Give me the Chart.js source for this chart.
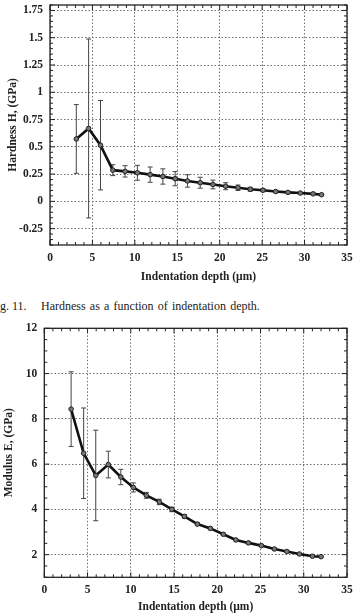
<!DOCTYPE html>
<html>
<head>
<meta charset="utf-8">
<script src="https://cdn.jsdelivr.net/npm/chart.js@4.4.1/dist/chart.umd.min.js"></script>
<style>
    html, body { margin: 0; padding: 0; background: #fff; }
    body { width: 354px; height: 614px; position: relative; overflow: hidden; font-family: "Liberation Serif", serif; }
    .box { position: absolute; left: 0; width: 354px; }
    #hardBox { top: 0; height: 284px; }
    #modBox { top: 314px; height: 300px; }
    .caption { position: absolute; top: 299px; font-size: 12px; color: #222; white-space: nowrap; }
</style>
</head>
<body>
<div class="box" id="hardBox"><canvas id="hardnessChart"></canvas></div>
<div class="caption" style="left:0">g. 11.</div>
<div class="caption" style="left:41px; word-spacing:1.2px">Hardness as a function of indentation depth.</div>
<div class="box" id="modBox"><canvas id="modulusChart"></canvas></div>
<script>
const depth = [3.1, 4.55, 5.95, 7.4, 8.85, 10.3, 11.8, 13.3, 14.75, 16.2, 17.7, 19.2, 20.7, 22.15, 23.6, 25.1, 26.6, 28.05, 29.5, 31.0, 32.0];
const hardness = [0.572, 0.668, 0.515, 0.286, 0.275, 0.262, 0.245, 0.228, 0.208, 0.187, 0.171, 0.155, 0.139, 0.125, 0.111, 0.102, 0.09, 0.082, 0.076, 0.069, 0.061];
const hardnessErr = [0.315, 0.82, 0.41, 0.05, 0.052, 0.068, 0.07, 0.07, 0.065, 0.057, 0.05, 0.04, 0.032, 0.025, 0.018, 0.013, 0.01, 0.008, 0.006, 0.005, 0.004];
const modulus = [8.43, 6.48, 5.5, 5.98, 5.43, 4.97, 4.62, 4.33, 4.0, 3.69, 3.35, 3.16, 2.9, 2.65, 2.52, 2.4, 2.25, 2.14, 2.03, 1.93, 1.91];
const modulusErr = [1.65, 2.0, 2.0, 0.59, 0.34, 0.2, 0.13, 0.12, 0.1, 0.08, 0.06, 0.05, 0.05, 0.04, 0.04, 0.03, 0.03, 0.03, 0.02, 0.02, 0.02];

const depthTicks = [0, 5, 10, 15, 20, 25, 30, 35];
const hardnessTicks = [-0.25, 0, 0.25, 0.5, 0.75, 1, 1.25, 1.5, 1.75];
const hardnessTickLabels = ['-0.25', '0', '0.25', '0.5', '0.75', '1', '1.25', '1.5', '1.75'];
const modulusTicks = [2, 4, 6, 8, 10, 12];
const modulusTickLabels = ['2', '4', '6', '8', '10', '12'];

const fontFamily = '"Liberation Serif", "Times New Roman", serif';
const tickFont = { size: 11.5, weight: 'bold', family: fontFamily };

// error bars + inward minor ticks + plot frame
const framePlugin = {
    id: 'frame',
    beforeDatasetsDraw(chart) {
        const { ctx, chartArea: a, scales: { x, y } } = chart;
        const ds = chart.data.datasets[0];
        ctx.save();
        ctx.strokeStyle = '#444';
        ctx.lineWidth = 1;
        ds.data.forEach((p, i) => {
            const e = ds.errors[i];
            const px = x.getPixelForValue(p.x);
            const top = y.getPixelForValue(p.y + e);
            const bot = y.getPixelForValue(p.y - e);
            ctx.beginPath();
            ctx.moveTo(px, top); ctx.lineTo(px, bot);
            ctx.moveTo(px - 2.5, top); ctx.lineTo(px + 2.5, top);
            ctx.moveTo(px - 2.5, bot); ctx.lineTo(px + 2.5, bot);
            ctx.stroke();
        });

        const m = chart.options.plugins.frame;
        ctx.strokeStyle = '#222';
        ctx.lineWidth = 1;
        ctx.beginPath();
        const xr = Math.round(5 / m.xMinor);
        for (let i = Math.ceil(x.min / m.xMinor - 1e-9); i <= Math.floor(x.max / m.xMinor + 1e-9); i++) {
            const px = x.getPixelForValue(i * m.xMinor);
            const len = i % xr === 0 ? 5 : 3;
            ctx.moveTo(px, a.bottom); ctx.lineTo(px, a.bottom - len);
            ctx.moveTo(px, a.top); ctx.lineTo(px, a.top + len);
        }
        const yr = Math.round(m.yMajor / m.yMinor);
        for (let i = Math.ceil(y.min / m.yMinor - 1e-9); i <= Math.floor(y.max / m.yMinor + 1e-9); i++) {
            const py = y.getPixelForValue(i * m.yMinor);
            const len = i % yr === 0 ? 5 : 3;
            ctx.moveTo(a.left, py); ctx.lineTo(a.left + len, py);
            ctx.moveTo(a.right, py); ctx.lineTo(a.right - len, py);
        }
        ctx.stroke();
        ctx.lineWidth = 1.3;
        ctx.strokeRect(a.left, a.top, a.right - a.left, a.bottom - a.top);
        ctx.restore();
    }
};

function makeChart(id, values, errors, yMin, yMax, yTicks, yLabels, yTitle, yWidth, yTitlePad, padTop, xHeight, yMinor, yMajor) {
    new Chart(document.getElementById(id), {
        type: 'line',
        data: {
            datasets: [{
                data: depth.map((d, i) => ({ x: d, y: values[i] })),
                errors: errors,
                borderColor: '#111',
                borderWidth: 2.6,
                pointRadius: 2.3,
                pointBackgroundColor: '#777',
                pointBorderColor: '#222',
                pointBorderWidth: 1,
                tension: 0
            }]
        },
        options: {
            responsive: true,
            maintainAspectRatio: false,
            animation: false,
            events: [],
            layout: { padding: { top: padTop, right: 7, left: 0, bottom: 0 } },
            scales: {
                x: {
                    type: 'linear',
                    min: 0,
                    max: 35,
                    afterBuildTicks: (s) => { s.ticks = depthTicks.map(v => ({ value: v })); },
                    afterFit: (s) => { s.height = xHeight; s.paddingLeft = 0; s.paddingRight = 0; },
                    grid: { color: '#6e6e6e', lineWidth: 1, drawTicks: false },
                    border: { display: false, dash: [1.5, 2] },
                    ticks: { font: tickFont, color: '#222', padding: 6, maxRotation: 0 },
                    title: { display: true, text: 'Indentation depth (µm)', font: tickFont, color: '#222', padding: 0 }
                },
                y: {
                    type: 'linear',
                    min: yMin,
                    max: yMax,
                    afterBuildTicks: (s) => { s.ticks = yTicks.map(v => ({ value: v })); },
                    afterFit: (s) => { s.width = yWidth; s.paddingTop = 0; s.paddingBottom = 0; },
                    grid: { color: '#6e6e6e', lineWidth: 1, drawTicks: false },
                    border: { display: false, dash: [1.5, 2] },
                    ticks: {
                        font: tickFont, color: '#222', padding: 7,
                        callback: (v) => yLabels[yTicks.indexOf(v)]
                    },
                    title: { display: true, text: yTitle, font: tickFont, color: '#222', padding: { top: yTitlePad, bottom: 0 } }
                }
            },
            plugins: {
                legend: { display: false },
                tooltip: { enabled: false },
                frame: { xMinor: 1, yMinor: yMinor, yMajor: yMajor }
            }
        },
        plugins: [framePlugin]
    });
}

makeChart('hardnessChart', hardness, hardnessErr, -0.4, 1.8, hardnessTicks, hardnessTickLabels,
    'Hardness H, (GPa)', 50, 6, 2, 39, 0.05, 0.25);
makeChart('modulusChart', modulus, modulusErr, 1, 12, modulusTicks, modulusTickLabels,
    'Modulus E, (GPa)', 44.3, 2, 14.3, 36.7, 0.5, 2);
</script>
</body>
</html>
